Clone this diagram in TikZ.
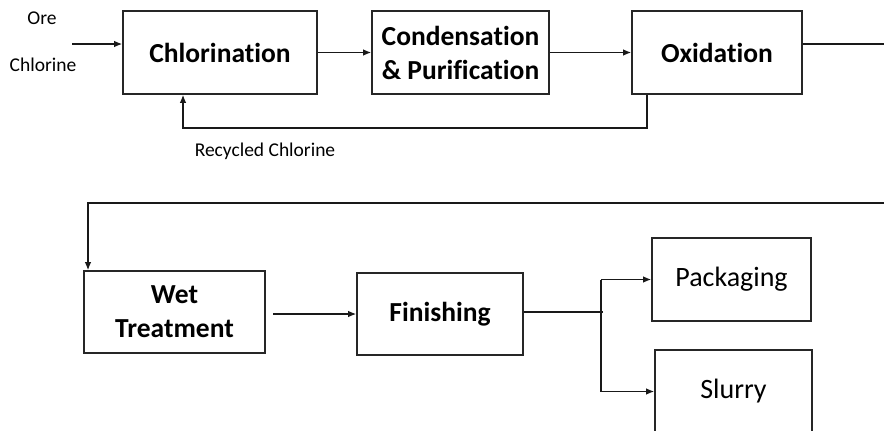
\documentclass[tikz,border=0pt]{standalone}
\usepackage{fontspec}
\setmainfont[Ligatures=NoCommon]{Carlito}
\usetikzlibrary{arrows.meta}
\begin{document}
\begin{tikzpicture}[x=1pt,y=-1pt,
  box/.style={draw=black!85,line width=1.6pt,minimum width=#1,inner sep=0pt,align=center},
  bt/.style={font=\fontsize{27.5}{34}\selectfont\bfseries},
  rt/.style={font=\fontsize{28}{34}\selectfont},
  st/.style={font=\fontsize{19.5}{23}\selectfont},
  conn/.style={draw=black!90,line width=1.3pt},
  arr/.style={conn,-{Latex[length=8pt,width=6.5pt]}}]
\useasboundingbox (0,0) rectangle (884,431);
\node[box=194pt,minimum height=83pt,bt] (chl) at (220,52.5) {Chlorination};
\node[box=177pt,minimum height=83pt,bt] (cond) at (460.5,52.5) {Condensation\\\& Purification};
\node[box=170pt,minimum height=83pt,bt] (oxi) at (717,52.5) {Oxidation};
\node[box=181pt,minimum height=82pt,bt] (wet) at (174.5,312) {Wet\\Treatment};
\node[box=166pt,minimum height=82pt,bt] (fin) at (440,314) {Finishing};
\node[box=159pt,minimum height=83pt,rt] (pack) at (731.5,279.5) {Packaging};
\node[box=157pt,minimum height=83pt,rt] (slur) at (733.5,391.5) {\raisebox{1.5pt}{Slurry}};
\node[st] (ore) at (42,18) {Ore};
\node[st] (clin) at (43,65) {Chlorine};
\node[st] (rec) at (265,151) {Recycled Chlorine};
\coordinate (in) at (72,44);
\coordinate (r1) at (647,128);
\coordinate (r2) at (183,128);
\coordinate (e1) at (890,44);
\coordinate (e2) at (890,203);
\coordinate (w1) at (88,203);
\coordinate (wf) at (273,314);
\coordinate (sp) at (601,312);
\coordinate (spe) at (603,312);
\draw[arr] (in) -- (in -| chl.west);
\draw[arr] (chl.east) -- (cond.west);
\draw[arr] (cond.east) -- (oxi.west);
\draw[conn] (oxi.east |- e1) -- (e1);
\draw[arr] (oxi.south -| r1) -- (r1) -- (r2) -- (r2 |- chl.south);
\draw[arr] (e2) -- (w1) -- (w1 |- wet.north);
\draw[arr] (wf) -- (wf -| fin.west);
\draw[conn] (fin.east |- sp) -- (spe);
\draw[arr] (sp |- pack.west) -- (pack.west);
\draw[conn] (sp |- pack.west) -- (sp |- slur.west);
\draw[arr] (sp |- slur.west) -- (slur.west);
\end{tikzpicture}
\end{document}
